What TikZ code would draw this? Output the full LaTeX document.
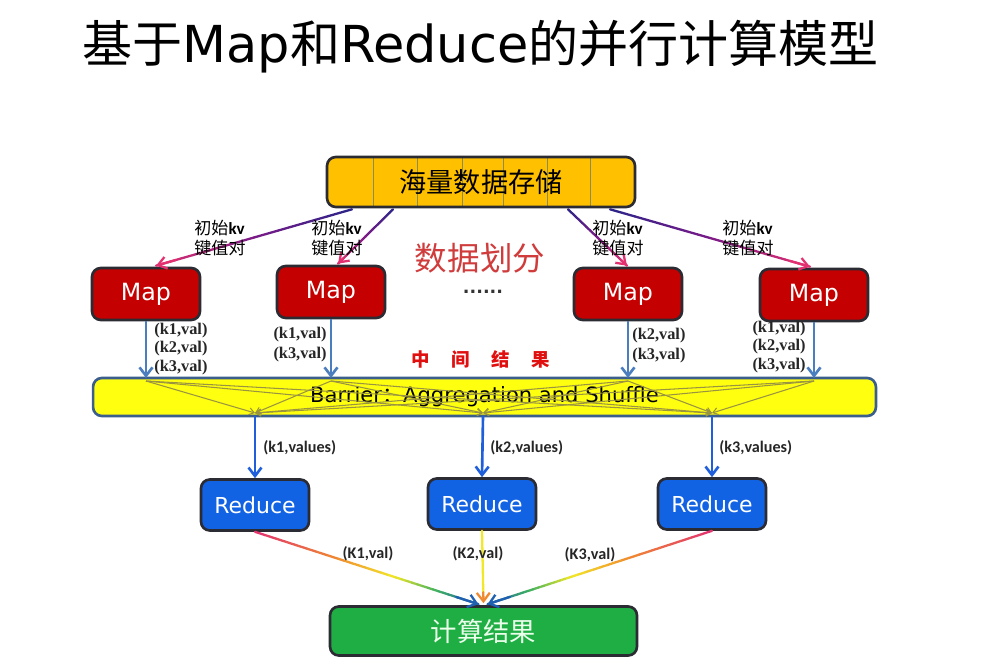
\documentclass[tikz,border=0pt]{standalone}
\usepackage{fontspec}
\setmainfont{DejaVu Sans}
\newfontfamily\cjk{Noto Sans CJK SC}
\newfontfamily\latf{DejaVu Sans}
\newfontfamily\calf{Carlito}
\newfontfamily\serf{Liberation Serif}
\usetikzlibrary{arrows.meta,calc}
\definecolor{gold}{HTML}{FFC000}
\definecolor{mapred}{HTML}{C40000}
\definecolor{redblue}{HTML}{1262E4}
\definecolor{resgreen}{HTML}{1EAE44}
\definecolor{barfill}{HTML}{FFFF10}
\definecolor{barline}{HTML}{3B5E8C}
\definecolor{edgedark}{HTML}{2B2B33}
\definecolor{steel}{HTML}{4A7EBE}
\definecolor{brightblue}{HTML}{1F5FDC}
\definecolor{olive}{HTML}{9A9440}
\definecolor{divline}{HTML}{8C8C58}
\definecolor{gpurple}{HTML}{2A2488}
\definecolor{gmag}{HTML}{7A1A88}
\definecolor{gpink}{HTML}{E23070}
\definecolor{gorange}{HTML}{F08A30}
\definecolor{gyellow}{HTML}{F2E828}
\definecolor{ggreen}{HTML}{3CB060}
\definecolor{gblue}{HTML}{2060B0}
\definecolor{midred}{HTML}{D03C3C}
\definecolor{zred}{HTML}{E01010}
\newcommand\gradseg[6]{%
  \foreach \j in {0,...,7}{%
    \pgfmathsetmacro\gta{#5+(#6-#5)*\j/8}%
    \pgfmathsetmacro\gtb{#5+(#6-#5)*(\j+1)/8}%
    \pgfmathtruncatemacro\gpp{100-100*(\j+0.5)/8}%
    \draw[gradline, draw=#3!\gpp!#4] ($(#1)!\gta!(#2)$) -- ($(#1)!\gtb!(#2)$);
  }%
}
\begin{document}
\begin{tikzpicture}[x=0.02cm,y=-0.02cm,
  box/.style={draw=edgedark, line width=1.5pt, rounded corners=5pt, inner sep=0pt},
  mapbox/.style={box, fill=mapred, minimum width=2.16cm, minimum height=1.04cm,
     text=white, font=\latf\fontsize{13.5}{16}\selectfont},
  redbox/.style={box, fill=redblue, minimum width=2.16cm, minimum height=1.02cm,
     text=white, font=\latf\fontsize{12.5}{15}\selectfont},
  gradline/.style={line width=1.3pt, line cap=round},
  kvlab/.style={font=\cjk\fontsize{9.7}{11.5}\selectfont, align=left, inner sep=0pt},
  serlab/.style={font=\serf\bfseries\fontsize{9.3}{10.4}\selectfont, align=left, inner sep=0pt, text=black!85},
  callab/.style={font=\calf\bfseries\fontsize{9.2}{11}\selectfont, inner sep=0pt, text=black!85},
  bluearr/.style={draw=steel, line width=1.5pt, -{Straight Barb[length=0.17cm,width=0.26cm,line width=1.5pt]}},
  bbarr/.style={draw=brightblue, line width=1.5pt, -{Straight Barb[length=0.17cm,width=0.26cm,line width=1.5pt]}},
  shuf/.style={draw=olive, line width=0.6pt, -{Straight Barb[length=0.1cm,width=0.14cm,line width=0.6pt]}},
]
\useasboundingbox[fill=white] (0,0) rectangle (1000,672);

% title
\node[anchor=west, inner sep=0pt] (title) at (82,47)
  {\cjk\fontsize{28.5}{34}\selectfont 基于{\latf\fontsize{29}{34}\selectfont Map}和{\latf\fontsize{29}{34}\selectfont Reduce}的并行计算模型};

% storage
\node[box, fill=gold, minimum width=6.16cm, minimum height=1.0cm,
  font=\cjk\fontsize{15.5}{18}\selectfont,
  path picture={\foreach \dx in {46,90,135,176,220,263}{
     \draw[divline, line width=0.6pt] ($(path picture bounding box.north west)+(\dx,0)$) -- ($(path picture bounding box.south west)+(\dx,0)$);}}]
  (store) at (481,182) {海量数据存储};

% maps
\node[mapbox] (map1) at (146,294) {Map};
\node[mapbox] (map2) at (331,292) {Map};
\node[mapbox] (map3) at (628,294) {Map};
\node[mapbox] (map4) at (814,295) {Map};

% storage -> map arrows (gradient)
\coordinate (s1) at ($(store.south)+(-129,1)$);
\coordinate (s2) at ($(store.south)+(-88,1)$);
\coordinate (s3) at ($(store.south)+(87,1)$);
\coordinate (s4) at ($(store.south)+(129,1)$);
\coordinate (e1) at ($(map1.north)+(10,-1)$);
\coordinate (e2) at ($(map2.north)+(7,-1)$);
\coordinate (e3) at ($(map3.north)+(-1,-1)$);
\coordinate (e4) at ($(map4.north)+(-4,-1)$);
\foreach \a/\b in {s1/e1,s2/e2,s3/e3,s4/e4}{
  \gradseg{\a}{\b}{gpurple}{gmag}{0}{0.5}
  \gradseg{\a}{\b}{gmag}{gpink}{0.5}{1}
  \draw[gradline, draw=gpink, -{Straight Barb[length=0.17cm,width=0.24cm,line width=1.3pt]}] ($(\a)!0.9!(\b)$) -- (\b);
}

\node[kvlab] (kv1) at (220,238) {初始{\calf\bfseries kv}\\键值对};
\node[kvlab] (kv2) at (337,238) {初始{\calf\bfseries kv}\\键值对};
\node[kvlab] (kv3) at (618,238) {初始{\calf\bfseries kv}\\键值对};
\node[kvlab] (kv4) at (748,238) {初始{\calf\bfseries kv}\\键值对};

\node[text=midred, font=\cjk\fontsize{18.5}{22}\selectfont, inner sep=0pt] (part) at (480,258) {数据划分};
\node[font=\latf\bfseries\fontsize{10}{12}\selectfont, inner sep=0pt, text=black!80] (dots) at (483,292) {......};

% barrier
\node[draw=barline, line width=1.5pt, rounded corners=5pt, fill=barfill,
  minimum width=15.66cm, minimum height=0.76cm, inner sep=0pt,
  font=\latf\fontsize{12}{14}\selectfont] (bar) at (484.5,397) {Barrier{\cjk ：}Aggregation and Shuffle};

\node[text=zred, font=\cjk\bfseries\fontsize{10.5}{12}\selectfont, inner sep=0pt] (mid) at (481,359)
  {中\hspace{0.43cm}间\hspace{0.43cm}结\hspace{0.43cm}果};

% map -> barrier
\coordinate (b1) at (146,378);
\coordinate (b2) at (331,378);
\coordinate (b3) at (628,378);
\coordinate (b4) at (814,378);
\draw[bluearr] (map1.south) -- (b1);
\draw[bluearr] (map2.south) -- (b2);
\draw[bluearr] (map3.south) -- (b3);
\draw[bluearr] (map4.south) -- (b4);

\node[serlab, anchor=west] (l1) at (154,349) {(k1,val)\\(k2,val)\\(k3,val)};
\node[serlab, anchor=east] (l2) at (327,345) {(k1,val)\\[1pt](k3,val)};
\node[serlab, anchor=west] (l3) at (632,346) {(k2,val)\\[1pt](k3,val)};
\node[serlab, anchor=east] (l4) at (806,347) {(k1,val)\\(k2,val)\\(k3,val)};

% shuffle lines
\coordinate (t1) at (146,381);
\coordinate (t2) at (331,381);
\coordinate (t3) at (628,381);
\coordinate (t4) at (814,381);
\coordinate (u1) at (255,413);
\coordinate (u2) at (483,413);
\coordinate (u3) at (712,413);
\foreach \a in {t1,t2,t3,t4}{
  \foreach \b in {u1,u2,u3}{
    \draw[shuf] (\a) -- (\b);
  }
}

% reduces
\node[redbox] (red1) at (255,505) {Reduce};
\node[redbox] (red2) at (482,504) {Reduce};
\node[redbox] (red3) at (712,504) {Reduce};

\coordinate (c1) at (255,416);
\coordinate (c2) at (483,416);
\coordinate (c3) at (712,416);
\draw[bbarr] (c1) -- (red1.north);
\draw[bbarr] (c2) -- (red2.north);
\draw[bbarr] (c3) -- (red3.north);

\node[callab, anchor=west] (v1) at (263,448) {(k1,values)};
\node[callab, anchor=west] (v2) at (490,448) {(k2,values)};
\node[callab, anchor=west] (v3) at (719,448) {(k3,values)};

% result
\node[box, fill=resgreen, minimum width=6.14cm, minimum height=0.98cm,
  text=green!8, font=\cjk\fontsize{15}{18}\selectfont] (res) at (483.5,631) {计算结果};

\coordinate (r1) at ($(res.north)+(-5,-1)$);
\coordinate (r2) at ($(res.north)+(0,-2)$);
\coordinate (r3) at ($(res.north)+(4,-1)$);
\foreach \a/\b in {red1.south/r1, red3.south/r3}{
  \gradseg{\a}{\b}{gpink}{gorange}{0}{0.37}
  \gradseg{\a}{\b}{gorange}{gyellow}{0.37}{0.63}
  \gradseg{\a}{\b}{gyellow}{ggreen}{0.63}{0.82}
  \gradseg{\a}{\b}{ggreen}{gblue}{0.82}{1}
  \draw[gradline, draw=gblue, -{Straight Barb[length=0.17cm,width=0.26cm,line width=1.3pt]}] ($(\a)!0.9!(\b)$) -- (\b);
}
\draw[gradline, draw=gyellow] (red2.south) -- ($(red2.south)!0.85!(r2)$);
\draw[gradline, draw=gorange, -{Straight Barb[length=0.17cm,width=0.26cm,line width=1.3pt]}] ($(red2.south)!0.85!(r2)$) -- (r2);

\node[callab] (k1) at (368,554) {(K1,val)};
\node[callab] (k2) at (478,554) {(K2,val)};
\node[callab] (k3) at (590,555) {(K3,val)};
\end{tikzpicture}
\end{document}
